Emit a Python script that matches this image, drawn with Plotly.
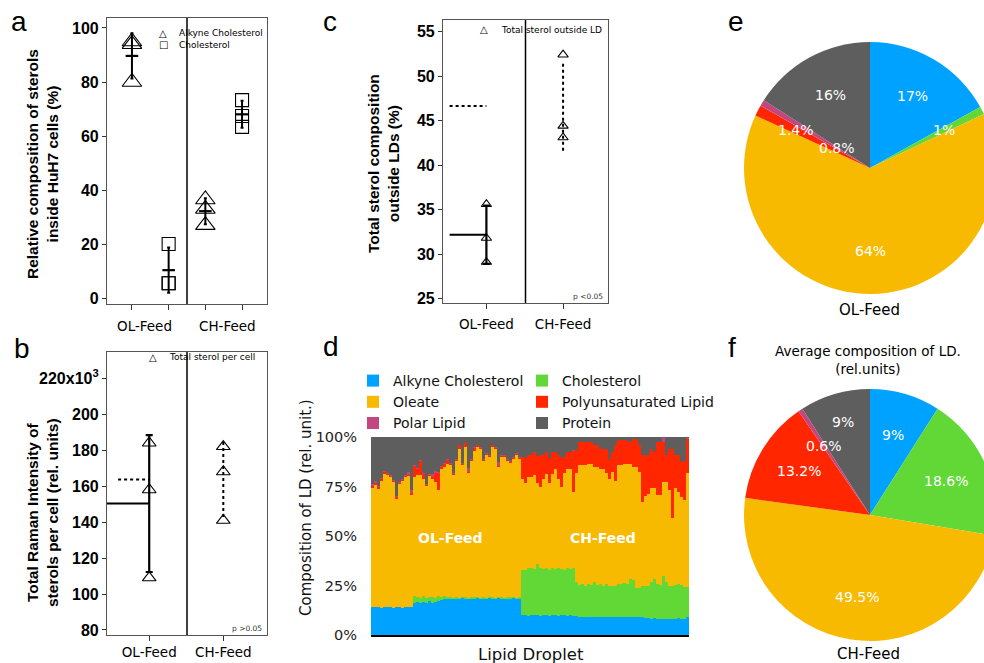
import numpy as np
import plotly.graph_objects as go

W, H = 984, 663          # reference picture size (pixels)
FIG_W = 1000             # figure slightly wider so the right-hand pies can be clipped like the reference

# ======================= DATA =======================
groups = ["OL-Feed", "CH-Feed"]

# (a) relative composition of sterols inside HuH7 cells (%)
a_alkyne_ol = [95.0, 94.0, 80.0]
a_chol_ol = [20.0, 5.5, 5.5]
a_alkyne_ch = [33.0, 36.5, 27.0]
a_chol_ch = [73.3, 67.4, 63.4]
a_yticks = [0, 20, 40, 60, 80, 100]

# (b) total Raman intensity of sterols per cell (x10^3 rel. units)
b_ol = [184.0, 158.0, 109.0]
b_ch = [182.0, 168.0, 141.0]
b_yticks = [80, 100, 120, 140, 160, 180, 200, 220]
b_yticktext = ["80", "100", "120", "140", "160", "180", "200", "220x10<sup>3</sup>"]

# (c) total sterol composition outside LDs (%)
c_ol = [35.6, 31.8, 29.1]
c_ch = [52.4, 44.4, 43.1]
c_yticks = [25, 30, 35, 40, 45, 50, 55]

# (d) composition of each lipid droplet: cumulative boundary levels (%) read per bar
d_alkyne_top = [
    14.2, 14.0, 14.3, 13.8, 14.0, 14.2, 14.0, 13.6, 14.1, 14.0,
    13.8, 14.2, 14.0, 14.1, 16.2, 16.8, 16.0, 16.5, 16.3, 17.0,
    16.4, 16.8, 17.2, 17.5, 18.0, 18.2, 18.5, 18.3, 18.6, 18.4,
    18.8, 18.5, 18.2, 18.6, 18.5, 18.9, 18.4, 18.6, 18.3, 18.7,
    18.5, 18.4, 18.8, 18.5, 18.3, 18.6, 18.5, 18.7, 18.4, 18.6,
    9.9, 10.0, 9.8, 9.9, 10.1, 9.9, 9.8, 10.0, 9.9, 9.7,
    9.9, 10.0, 9.8, 9.9, 10.0, 9.8, 9.9, 9.7, 9.5, 9.1,
    9.2, 9.0, 9.1, 9.3, 9.1, 9.0, 9.2, 9.1, 8.9, 9.1,
    9.0, 9.2, 9.1, 9.0, 9.3, 9.1, 9.0, 8.9, 9.1, 9.0,
    9.2, 8.8, 8.6, 8.2, 8.4, 8.1, 8.3, 8.2, 8.0, 8.3,
    8.2, 8.1, 8.4, 8.2, 8.3, 8.9]
d_chol_top = [
    14.2, 14.0, 14.3, 13.8, 14.0, 14.2, 14.0, 13.6, 14.1, 14.0,
    13.8, 14.2, 14.0, 14.1, 19.5, 19.0, 18.6, 19.6, 18.8, 19.4,
    19.2, 18.7, 19.5, 19.3, 19.6, 19.4, 19.0, 18.8, 19.2, 18.9,
    19.3, 19.0, 18.8, 19.1, 19.0, 19.4, 18.9, 19.1, 18.8, 19.2,
    19.0, 18.9, 19.3, 19.0, 18.8, 19.1, 19.0, 19.2, 18.9, 19.1,
    33.0, 33.0, 34.0, 34.0, 33.5, 36.0, 34.0, 33.5, 34.0, 33.0,
    34.0, 33.5, 34.0, 33.5, 33.0, 34.0, 33.5, 34.0, 27.0, 25.5,
    26.0, 25.0, 26.0, 25.5, 27.0, 25.5, 26.0, 25.0, 26.0, 25.0,
    25.0, 25.0, 26.0, 26.0, 26.5, 26.0, 28.5, 28.0, 23.5, 23.5,
    25.0, 25.0, 25.0, 27.0, 28.5, 26.0, 25.5, 30.0, 27.0, 25.0,
    25.0, 25.5, 26.0, 25.5, 24.0, 24.0]
d_oleate_top = [
    74.0, 75.6, 74.0, 78.0, 81.5, 81.0, 79.8, 77.3, 69.0, 76.4,
    78.0, 79.8, 80.6, 71.0, 79.8, 80.6, 80.6, 79.0, 75.6, 80.6,
    79.0, 77.3, 73.0, 84.0, 85.0, 86.5, 86.0, 81.0, 88.0, 94.0,
    86.0, 95.0, 82.0, 88.0, 93.0, 95.0, 94.0, 88.0, 91.0, 90.0,
    95.0, 94.0, 85.0, 90.0, 90.0, 88.0, 87.0, 89.0, 91.0, 89.0,
    79.0, 77.0, 80.0, 80.0, 80.6, 77.0, 75.0, 79.0, 81.5, 77.0,
    81.5, 84.0, 79.0, 75.0, 82.0, 84.0, 84.0, 72.0, 82.0, 85.7,
    85.7, 85.7, 86.5, 86.5, 85.0, 84.8, 84.0, 84.0, 82.0, 79.0,
    82.3, 78.0, 85.7, 85.7, 86.5, 86.5, 86.5, 85.0, 84.8, 82.3,
    67.0, 70.0, 71.0, 74.0, 74.0, 70.5, 70.5, 77.3, 77.3, 73.0,
    59.0, 74.0, 72.0, 69.7, 68.0, 82.0]
d_pufa_top = [
    75.5, 77.0, 75.0, 79.0, 82.7, 81.5, 80.6, 78.0, 70.0, 77.0,
    78.6, 80.6, 81.0, 72.0, 85.7, 84.0, 88.2, 81.5, 76.0, 81.0,
    80.0, 82.3, 82.0, 85.0, 86.5, 88.5, 86.5, 81.5, 88.5, 96.0,
    86.5, 97.0, 82.3, 88.5, 94.5, 96.0, 94.5, 88.5, 91.5, 90.5,
    96.0, 94.5, 85.3, 90.5, 90.5, 88.5, 87.5, 89.5, 91.5, 89.5,
    90.0, 89.5, 91.0, 91.0, 92.4, 90.5, 90.7, 90.7, 92.4, 89.5,
    92.4, 92.4, 90.7, 90.0, 89.9, 92.4, 92.4, 93.0, 93.3, 97.5,
    97.5, 97.5, 97.5, 97.5, 95.8, 95.8, 94.0, 94.0, 94.0, 89.0,
    92.4, 95.8, 98.3, 98.3, 98.3, 98.0, 97.5, 99.2, 99.2, 95.8,
    90.7, 90.7, 90.7, 94.0, 92.4, 97.5, 97.5, 97.5, 90.7, 94.0,
    94.0, 90.7, 90.7, 87.4, 88.0, 99.0]
d_polar = [
    0.8, 0.8, 0.3, 0.5, 0.2, 0.2, 0.2, 0.2, 0.3, 0.2,
    0.2, 0.2, 1.5, 1.0, 0.3, 0.2, 0.2, 0.2, 0.2, 0.2,
    1.5, 0.3, 0.2, 0.2, 0.2, 0.2, 0.2, 0.3, 0.2, 0.2,
    0.2, 0.2, 2.0, 0.2, 0.2, 0.2, 0.2, 0.3, 0.2, 0.2,
    0.2, 0.2, 2.0, 0.2, 0.2, 0.3, 0.2, 0.2, 0.2, 0.2,
    0.0, 0.0, 0.0, 0.0, 0.0, 0.0, 0.0, 0.0, 0.0, 0.0,
    0.0, 0.0, 0.0, 0.0, 0.0, 0.0, 0.0, 0.5, 0.0, 0.0,
    0.0, 0.0, 0.0, 0.0, 0.0, 0.0, 0.0, 0.0, 0.0, 0.0,
    0.0, 0.0, 0.0, 0.0, 0.0, 0.0, 0.0, 0.0, 0.0, 0.0,
    0.0, 0.0, 0.0, 0.0, 0.0, 0.0, 0.0, 2.5, 0.0, 0.0,
    0.0, 0.0, 0.0, 0.0, 0.0, 0.8]
d_yticks = [0, 25, 50, 75, 100]
d_yticktext = ["0%", "25%", "50%", "75%", "100%"]

# (e, f) average composition of LD (rel. units, %)
components = ["Alkyne Cholesterol", "Cholesterol", "Oleate",
              "Polyunsaturated Lipid", "Polar Lipid", "Protein"]
e_values = [17, 1, 64, 1.4, 0.8, 16]
f_values = [9, 18.6, 49.5, 13.2, 0.6, 9]

# ======================= STYLE =======================
colors = ["#00A2FF", "#61D836", "#F8BA00", "#FF2600", "#C2477F", "#5E5E5E"]
TXT = "DejaVu Sans"
HEL = "Liberation Sans"


def X(px):
    return px / FIG_W


def Y(py):
    return 1 - py / H


def ann(text, x, y, size, family=TXT, color="black", xanchor="center",
        yanchor="middle", angle=0, weight="normal"):
    return dict(text=text, x=X(x), y=Y(y), xref="paper", yref="paper",
                showarrow=False, xanchor=xanchor, yanchor=yanchor,
                textangle=angle,
                font=dict(family=family, size=size, color=color, weight=weight))


fig = go.Figure()
annotations = []
shapes = []

# ----------------------- panel a -----------------------
for xpos, vals, sym in [(0, a_alkyne_ol, "triangle-up-open"), (1, a_chol_ol, "square-open"),
                        (2, a_alkyne_ch, "triangle-up-open"), (3, a_chol_ch, "square-open")]:
    size = 17 if "triangle" in sym else 13
    fig.add_trace(go.Scatter(x=[xpos] * len(vals), y=vals, mode="markers",
                             marker=dict(symbol=sym, size=size, color="black",
                                         line=dict(width=1.1, color="black")),
                             xaxis="x", yaxis="y", showlegend=False, hoverinfo="y"))
    m, s = float(np.mean(vals)), float(np.std(vals, ddof=1))
    fig.add_trace(go.Scatter(x=[xpos], y=[m], mode="markers",
                             marker=dict(symbol="line-ew-open", size=9, color="black",
                                         line=dict(width=2.2, color="black")),
                             error_y=dict(type="data", array=[s], thickness=2,
                                          width=1.5, color="black"),
                             xaxis="x", yaxis="y", showlegend=False, hoverinfo="y"))


# ----------------------- panels b & c -----------------------
def add_mean_panel(xa, ya, ol, ch, tri_size, ol_start, ch_start):
    fig.add_trace(go.Scatter(x=[0] * len(ol) + [1] * len(ch), y=ol + ch, mode="markers",
                             marker=dict(symbol="triangle-up-open", size=tri_size, color="black",
                                         line=dict(width=1.1, color="black")),
                             xaxis=xa, yaxis=ya, showlegend=False, hoverinfo="y"))
    mo, so = float(np.mean(ol)), float(np.std(ol, ddof=1))
    mc, sc = float(np.mean(ch)), float(np.std(ch, ddof=1))
    # OL: solid mean line + solid SD bar with caps
    fig.add_trace(go.Scatter(x=[ol_start, 0], y=[mo, mo], mode="lines",
                             line=dict(color="black", width=2),
                             xaxis=xa, yaxis=ya, showlegend=False, hoverinfo="skip"))
    fig.add_trace(go.Scatter(x=[0], y=[mo], mode="markers",
                             marker=dict(size=1, color="rgba(0,0,0,0)"),
                             error_y=dict(type="data", array=[so], thickness=2.2,
                                          width=3.5, color="black"),
                             xaxis=xa, yaxis=ya, showlegend=False, hoverinfo="skip"))
    # CH: dotted mean line + dotted SD bar
    fig.add_trace(go.Scatter(x=[ch_start, 0], y=[mc, mc], mode="lines",
                             line=dict(color="black", width=2, dash="dot"),
                             xaxis=xa, yaxis=ya, showlegend=False, hoverinfo="skip"))
    fig.add_trace(go.Scatter(x=[1, 1], y=[mc - sc, mc + sc], mode="lines",
                             line=dict(color="black", width=2, dash="dot"),
                             xaxis=xa, yaxis=ya, showlegend=False, hoverinfo="skip"))


add_mean_panel("x2", "y2", b_ol, b_ch, 12, -0.57, -0.42)
add_mean_panel("x3", "y3", c_ol, c_ch, 9, -0.48, -0.48)

# ----------------------- panel d -----------------------
a_top = np.array(d_alkyne_top)
c_top = np.array(d_chol_top)
o_top = np.array(d_oleate_top)
p_top = np.array(d_pufa_top)
pol = np.array(d_polar)
comp_vals = [
    a_top,
    np.clip(c_top - a_top, 0, None),
    np.clip(o_top - c_top, 0, None),
    np.clip(p_top - o_top, 0, None),
    pol,
    np.clip(100 - p_top - pol, 0, None),
]
xd = np.arange(len(a_top))
legend_of = ["legend", "legend2", "legend", "legend2", "legend", "legend2"]
for name, vals, col, lg in zip(components, comp_vals, colors, legend_of):
    fig.add_trace(go.Bar(x=xd, y=vals, name=name, marker=dict(color=col, line=dict(width=0)),
                         xaxis="x4", yaxis="y4", legend=lg, hoverinfo="y+name"))

# ----------------------- pies e & f -----------------------
pie_e_dom = dict(x=[X(744), X(996)], y=[Y(294), Y(42)])
pie_f_dom = dict(x=[X(744), X(996)], y=[Y(641), Y(389)])
for vals, dom in [(e_values, pie_e_dom), (f_values, pie_f_dom)]:
    fig.add_trace(go.Pie(values=vals, labels=components, sort=False, direction="clockwise",
                         rotation=0, textinfo="none", marker=dict(colors=colors),
                         domain=dom, showlegend=False, hoverinfo="label+value",
                         automargin=False))


def pie_labels(values, dom, fracs):
    x0, x1 = dom["x"][0] * FIG_W, dom["x"][1] * FIG_W
    y0, y1 = (1 - dom["y"][1]) * H, (1 - dom["y"][0]) * H
    cx, cy = (x0 + x1) / 2, (y0 + y1) / 2
    R = min(x1 - x0, y1 - y0) / 2
    v = np.array(values, dtype=float)
    mid = (np.cumsum(v) - v / 2) / v.sum() * 2 * np.pi
    out = []
    for val, ang, fr in zip(values, mid, fracs):
        out.append(ann(f"{val:g}%", cx + R * fr * np.sin(ang), cy - R * fr * np.cos(ang),
                       14, color="white"))
    return out


annotations += pie_labels(e_values, pie_e_dom, [0.66, 0.66, 0.66, 0.66, 0.31, 0.66])
annotations += pie_labels(f_values, pie_f_dom, [0.66, 0.66, 0.66, 0.66, 0.66, 0.77])

# ----------------------- text -----------------------
for t, x, y in [("a", 19, 22), ("b", 22, 348), ("c", 330, 21),
                ("d", 331, 346), ("e", 736, 22), ("f", 732, 347)]:
    annotations.append(ann(t, x, y, 28, family=HEL))

annotations += [
    ann("Relative composition of sterols<br>inside HuH7 cells (%)", 42, 164, 15.5,
        family=HEL, angle=-90, weight="bold"),
    ann("Total Raman Intensity of<br>sterols per cell (rel. units)", 42, 513, 15.5,
        family=HEL, angle=-90, weight="bold"),
    ann("Total sterol composition<br>outside LDs (%)", 383, 164, 15.5,
        family=HEL, angle=-90, weight="bold"),
    ann("Composition of LD (rel. unit.)", 306, 508, 15, angle=-90, color="#111"),
    ann("Lipid Droplet", 531, 654, 16.5, color="#111"),
    ann("OL-Feed", 144, 326, 13.5),
    ann("CH-Feed", 227, 326, 13.5),
    # legends of a, b, c
    ann("△", 163, 33, 10), ann("Alkyne Cholesterol", 177, 33, 9, xanchor="left"),
    ann("□", 163, 45, 10), ann("Cholesterol", 177, 45, 9, xanchor="left"),
    ann("△", 153, 357, 10), ann("Total sterol per cell", 167, 357, 9, xanchor="left"),
    ann("△", 484, 30, 10), ann("Total sterol outside LD", 499, 30, 9, xanchor="left"),
    ann("p >0.05", 264, 628, 7.5, xanchor="right", color="#333"),
    ann("p <0.05", 605, 296, 7.5, xanchor="right", color="#333"),
    # labels inside d
    ann("OL-Feed", 450, 538, 14, color="white", weight="bold"),
    ann("CH-Feed", 603, 538, 14, color="white", weight="bold"),
    # pie captions
    ann("OL-Feed", 869, 310, 15),
    ann("CH-Feed", 868, 654, 15),
    ann("Average composition of LD.<br>(rel.units)", 868, 360, 13.5),
]

# dividers
for xref, yref, xv in [("x", "y domain", 1.5), ("x2", "y2 domain", 0.51), ("x3", "y3 domain", 0.51)]:
    shapes.append(dict(type="line", xref=xref, yref=yref, x0=xv, x1=xv, y0=0, y1=1,
                       line=dict(color="black", width=1.5)))

frame = dict(showline=True, mirror=True, linecolor="#555", linewidth=1.2,
             showgrid=False, zeroline=False, automargin=False)
ytickfont = dict(family=HEL, size=16, color="black", weight="bold")
xtickfont = dict(family=TXT, size=13.5, color="black")

fig.update_layout(
    width=FIG_W, height=H, margin=dict(l=0, r=0, t=0, b=0, autoexpand=False),
    paper_bgcolor="white", plot_bgcolor="white",
    barmode="stack", bargap=0,
    xaxis=dict(domain=[X(107), X(267)], range=[-0.68, 3.68], tickvals=[0, 1, 2, 3],
               showticklabels=False, ticks="outside", ticklen=5, tickcolor="#333",
               anchor="y", **frame),
    yaxis=dict(domain=[Y(304), Y(18)], range=[-2.2, 103.7], tickvals=a_yticks,
               ticks="outside", ticklen=4, tickcolor="#333", tickfont=ytickfont,
               anchor="x", **frame),
    xaxis2=dict(domain=[X(107), X(267)], range=[-0.57, 1.59], tickvals=[0, 1],
                ticktext=groups, ticks="outside", ticklen=5, tickcolor="#333",
                tickfont=xtickfont, anchor="y2", **frame),
    yaxis2=dict(domain=[Y(635), Y(352)], range=[77.2, 234.6], tickvals=b_yticks,
                ticktext=b_yticktext, ticks="outside", ticklen=4, tickcolor="#333",
                tickfont=ytickfont, anchor="x2", **frame),
    xaxis3=dict(domain=[X(443), X(608)], range=[-0.566, 1.586], tickvals=[0, 1],
                ticktext=groups, ticks="outside", ticklen=5, tickcolor="#333",
                tickfont=xtickfont, ticklabelstandoff=4, anchor="y3", **frame),
    yaxis3=dict(domain=[Y(303), Y(20)], range=[24.5, 56.3], tickvals=c_yticks,
                ticks="outside", ticklen=4, tickcolor="#333", tickfont=ytickfont,
                anchor="x3", **frame),
    xaxis4=dict(domain=[X(371), X(689)], range=[-0.5, len(d_alkyne_top) - 0.5],
                showticklabels=False, ticks="", showline=True, linecolor="black",
                linewidth=1.5, showgrid=False, zeroline=False, anchor="y4", automargin=False),
    yaxis4=dict(domain=[Y(635), Y(437)], range=[0, 100], tickvals=d_yticks,
                ticktext=d_yticktext, ticks="outside", ticklen=10,
                tickcolor="rgba(0,0,0,0)", showline=False, showgrid=False, zeroline=False,
                tickfont=dict(family=TXT, size=14.5, color="#222"), anchor="x4",
                automargin=False),
    legend=dict(x=X(353), y=Y(365), xanchor="left", yanchor="top", traceorder="normal",
                bgcolor="rgba(0,0,0,0)", font=dict(family=TXT, size=14, color="#111"),
                tracegroupgap=0, itemclick=False, itemdoubleclick=False),
    legend2=dict(x=X(522), y=Y(365), xanchor="left", yanchor="top", traceorder="normal",
                 bgcolor="rgba(0,0,0,0)", font=dict(family=TXT, size=14, color="#111"),
                 tracegroupgap=0, itemclick=False, itemdoubleclick=False),
    annotations=annotations,
    shapes=shapes,
)

fig.write_html("out.html", config={"displayModeBar": False},
               post_script="document.body.style.margin='0px';"
                           "document.body.style.overflow='hidden';")
